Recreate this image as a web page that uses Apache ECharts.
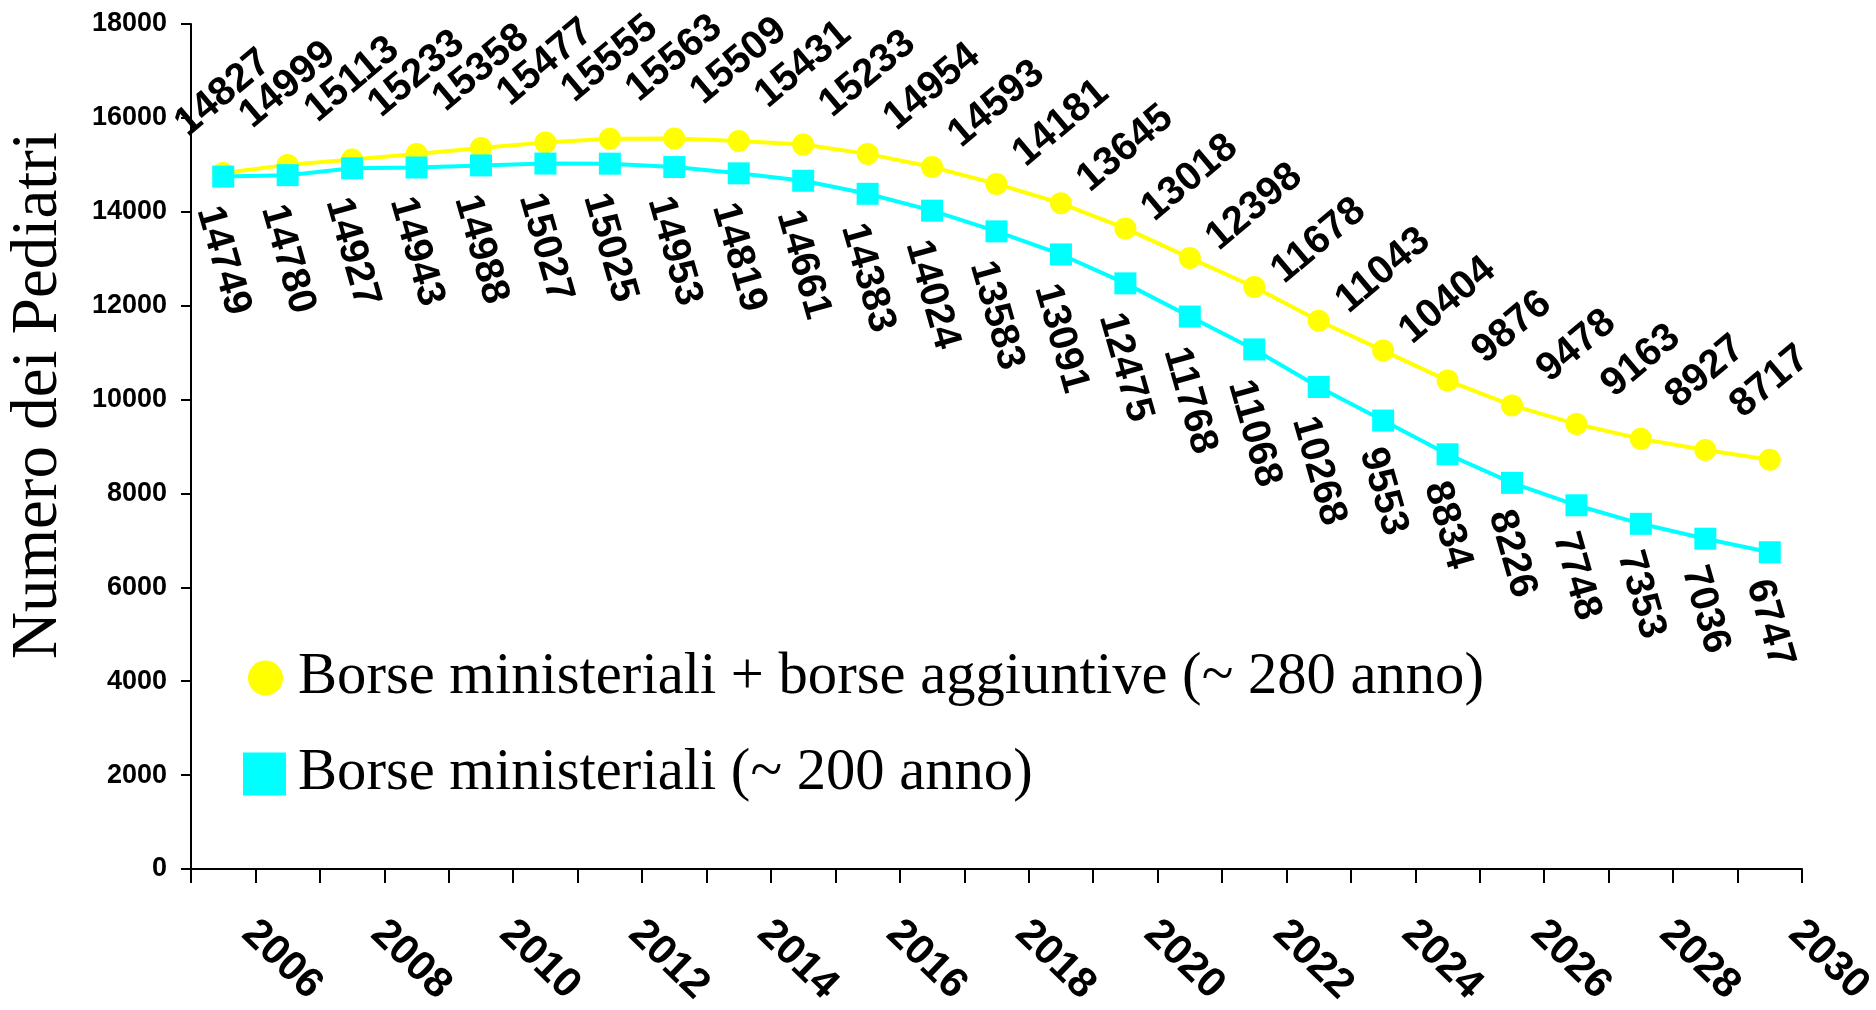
<!DOCTYPE html>
<html>
<head>
<meta charset="utf-8">
<script src="https://cdn.jsdelivr.net/npm/echarts/dist/echarts.min.js"></script>
<style>
html,body{margin:0;padding:0;background:#ffffff;}
#chart{width:1876px;height:1010px;}
</style>
</head>
<body>
<div id="chart"></div>
<script>
// ---- data ----
const years = ['2006','2007','2008','2009','2010','2011','2012','2013','2014','2015','2016','2017','2018',
               '2019','2020','2021','2022','2023','2024','2025','2026','2027','2028','2029','2030'];
const nameExtra = 'Borse ministeriali + borse aggiuntive (~ 280 anno)';
const nameMinist = 'Borse ministeriali (~ 200 anno)';
const withExtra = [14827,14999,15113,15233,15358,15477,15555,15563,15509,15431,15233,14954,14593,
                   14181,13645,13018,12398,11678,11043,10404,9876,9478,9163,8927,8717];
const ministerial = [14749,14780,14927,14943,14988,15027,15025,14953,14819,14661,14383,14024,13583,
                     13091,12475,11768,11068,10268,9553,8834,8226,7748,7353,7036,6747];
const yMin = 0, yMax = 18000, yStep = 2000;
const yAxisTitle = 'Numero dei Pediatri';

// ---- helpers ----
const SANS = '"Liberation Sans", Arial, Helvetica, sans-serif';
const SERIF = '"Liberation Serif", "Times New Roman", Times, serif';
const YELLOW = '#FFFF00', CYAN = '#00FFFF';
const ROT_UP = 40, ROT_DOWN = -74;

// offset of a rotated label so its centre lands straight above (dir=-1) or below (dir=1) the point
function labelOffset(dist, rotDeg, dir) {
  const t = rotDeg * Math.PI / 180;
  return dir < 0 ? [dist * Math.sin(t), -dist * Math.cos(t)]
                 : [-dist * Math.sin(t), dist * Math.cos(t)];
}
const yellowData = withExtra.map(v => ({
  value: v,
  label: { offset: labelOffset(String(v).length > 4 ? 80 : 78, ROT_UP, -1) }
}));
const cyanData = ministerial.map(v => ({
  value: v,
  label: { offset: labelOffset(String(v).length > 4 ? 84 : 71, ROT_DOWN, 1) }
}));

const dataLabel = (rot) => ({
  show: true, position: 'inside', rotate: rot,
  align: 'center', verticalAlign: 'middle',
  color: '#000', fontFamily: SANS, fontWeight: 'bold', fontSize: 40
});

const chart = echarts.init(document.getElementById('chart'), null, { renderer: 'canvas' });
chart.setOption({
  animation: false,
  backgroundColor: '#ffffff',
  grid: { left: 191, right: 74, top: 24, bottom: 141, containLabel: false, outerBoundsMode: 'none' },
  legend: [
    {
      data: [{ name: nameExtra, icon: 'circle' }],
      left: 248, top: 648, orient: 'vertical', padding: 0,
      itemWidth: 35, itemHeight: 35, selectedMode: false,
      textStyle: { fontFamily: SERIF, fontSize: 58.6, color: '#000', lineHeight: 60, padding: [0, 0, 0, 10] }
    },
    {
      data: [{ name: nameMinist, icon: 'rect' }],
      left: 243, top: 744, orient: 'vertical', padding: 0,
      itemWidth: 43, itemHeight: 43, selectedMode: false,
      textStyle: { fontFamily: SERIF, fontSize: 58.6, color: '#000', lineHeight: 60, padding: [0, 0, 0, 7] }
    }
  ],
  xAxis: {
    type: 'category', data: years, boundaryGap: true,
    axisLine: { show: true, lineStyle: { color: '#000', width: 2 } },
    axisTick: { show: true, interval: 0, length: 14, lineStyle: { color: '#000', width: 2 } },
    axisLabel: {
      interval: 1, rotate: -44, margin: 34, padding: [0, 0, 0, 35],
      align: 'left', verticalAlign: 'middle', hideOverlap: false,
      fontFamily: SANS, fontWeight: 'bold', fontSize: 42, color: '#000'
    },
    splitLine: { show: false }
  },
  yAxis: {
    type: 'value', min: yMin, max: yMax, interval: yStep,
    name: yAxisTitle, nameLocation: 'middle', nameRotate: 90, nameGap: 120, nameMoveOverlap: false,
    nameTextStyle: { fontFamily: SERIF, fontSize: 65, color: '#000', padding: [0, 0, 0, 102] },
    axisLine: { show: true, lineStyle: { color: '#000', width: 2 } },
    axisTick: { show: true, length: 10, lineStyle: { color: '#000', width: 2 } },
    axisLabel: {
      margin: 24, fontFamily: SANS, fontWeight: 'bold', fontSize: 27, color: '#000',
      formatter: v => String(v)
    },
    splitLine: { show: false }
  },
  series: [
    {
      name: nameExtra, type: 'line', data: yellowData,
      symbol: 'circle', symbolSize: 22, showAllSymbol: true,
      itemStyle: { color: YELLOW },
      lineStyle: { color: YELLOW, width: 4 },
      label: dataLabel(ROT_UP),
      emphasis: { disabled: true }
    },
    {
      name: nameMinist, type: 'line', data: cyanData,
      symbol: 'rect', symbolSize: 22, showAllSymbol: true,
      itemStyle: { color: CYAN },
      lineStyle: { color: CYAN, width: 4 },
      label: dataLabel(ROT_DOWN),
      emphasis: { disabled: true }
    }
  ]
});
</script>
</body>
</html>
